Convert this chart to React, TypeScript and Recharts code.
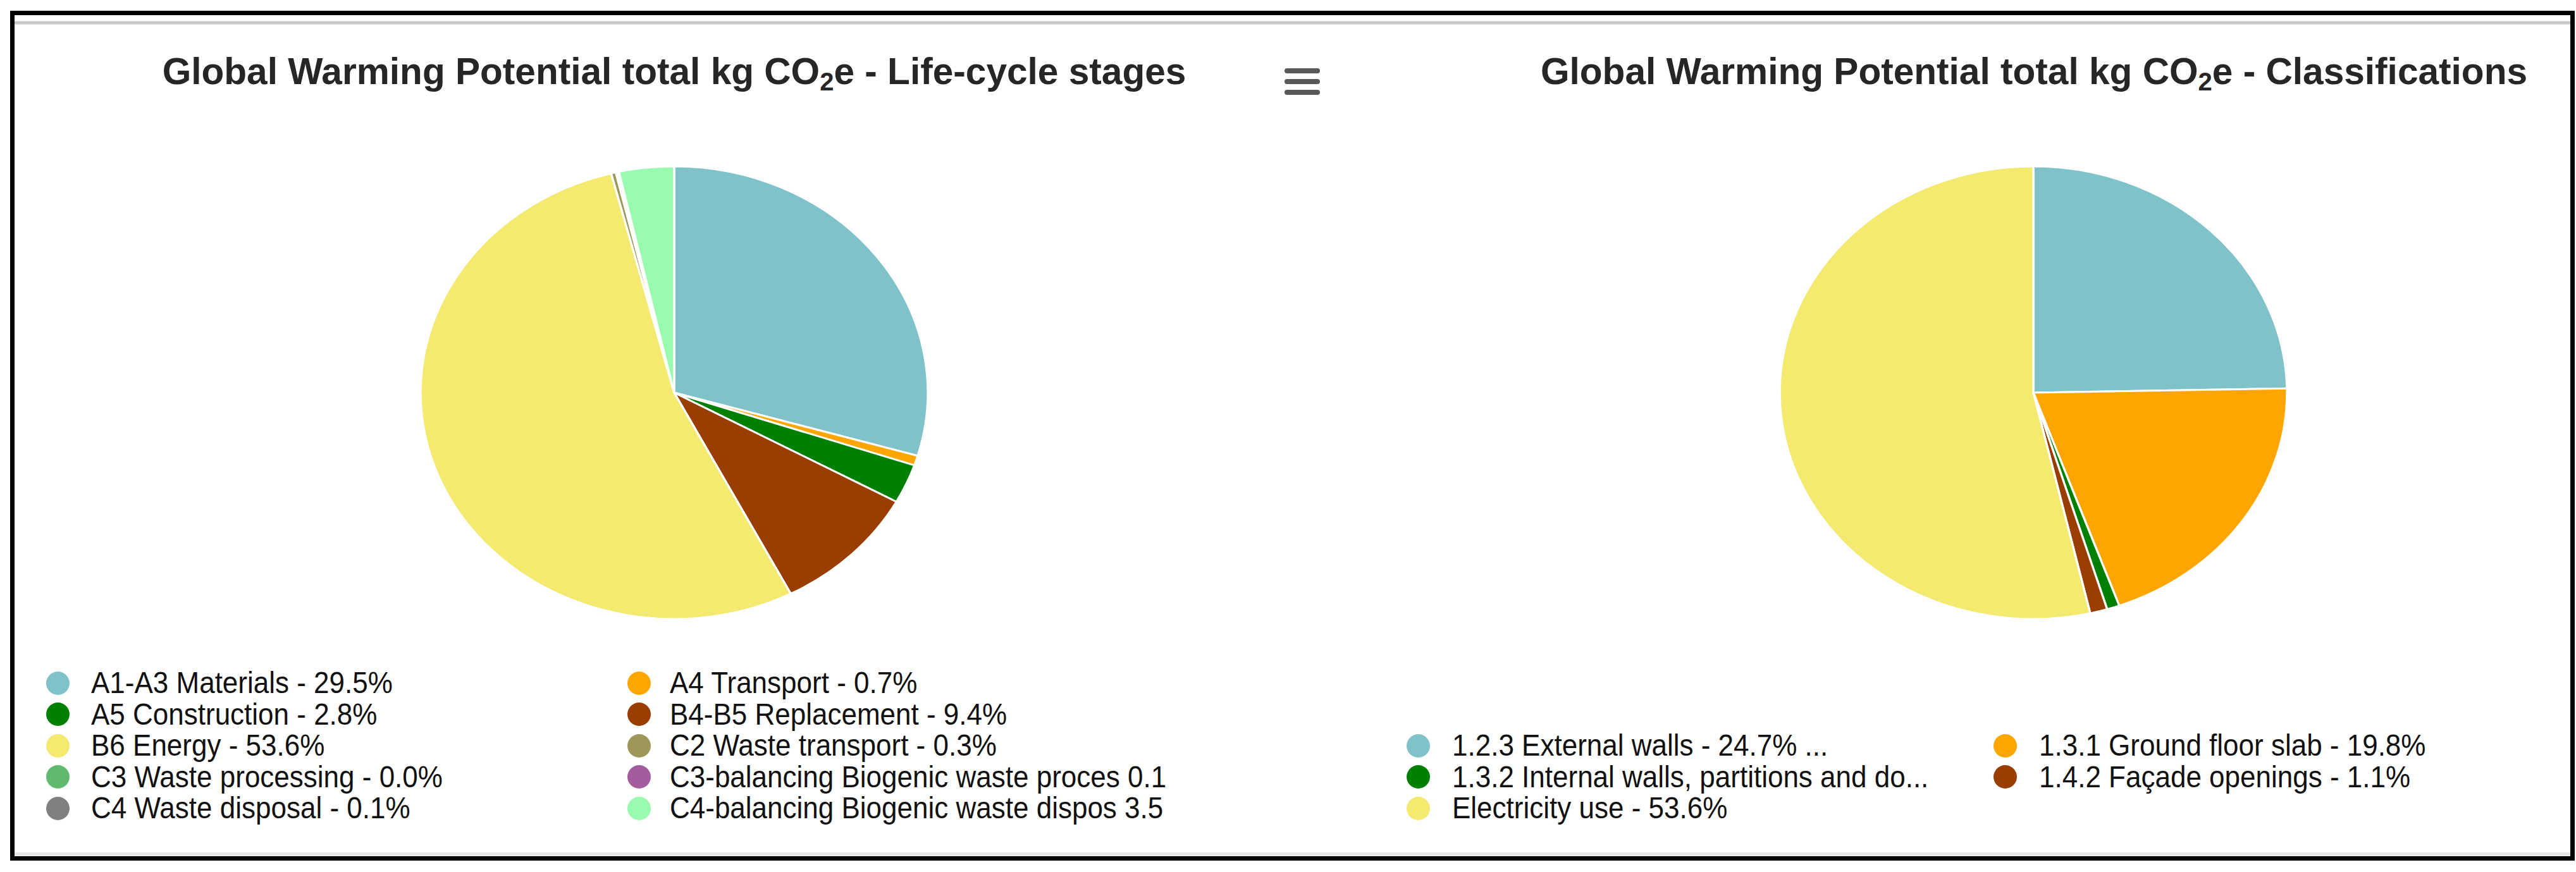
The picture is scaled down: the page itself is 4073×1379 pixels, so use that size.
import { Cell, Legend, Pie, PieChart, Sector } from "recharts";

const lifeNames = [
  "A1-A3 Materials",
  "A4 Transport",
  "A5 Construction",
  "B4-B5 Replacement",
  "B6 Energy",
  "C2 Waste transport",
  "C3 Waste processing",
  "C3-balancing Biogenic waste processing",
  "C4 Waste disposal",
  "C4-balancing Biogenic waste disposal",
];
const lifeValues = [29.5, 0.7, 2.8, 9.4, 53.6, 0.3, 0.0, 0.1, 0.1, 3.5];
const lifeLabels = [
  "A1-A3 Materials - 29.5%",
  "A4 Transport - 0.7%",
  "A5 Construction - 2.8%",
  "B4-B5 Replacement - 9.4%",
  "B6 Energy - 53.6%",
  "C2 Waste transport - 0.3%",
  "C3 Waste processing - 0.0%",
  "C3-balancing Biogenic waste proces 0.1",
  "C4 Waste disposal - 0.1%",
  "C4-balancing Biogenic waste dispos 3.5",
];
const lifeColors = [
  "#7fc2ca", "#ffa500", "#008000", "#993d00", "#f4ea70",
  "#9e975a", "#5fba6d", "#a35c9e", "#808080", "#98fbb0",
];

const classNames = [
  "1.2.3 External walls",
  "1.3.1 Ground floor slab",
  "1.3.2 Internal walls, partitions and doors",
  "1.4.2 Façade openings",
  "Electricity use",
];
const classValues = [24.7, 19.8, 0.8, 1.1, 53.6];
const classLabels = [
  "1.2.3 External walls - 24.7% ...",
  "1.3.1 Ground floor slab - 19.8%",
  "1.3.2 Internal walls, partitions and do...",
  "1.4.2 Façade openings - 1.1%",
  "Electricity use - 53.6%",
];
const classColors = ["#7fc2ca", "#ffa500", "#008000", "#993d00", "#f4ea70"];

const lifeData = lifeNames.map((name, i) => ({ name, value: lifeValues[i], fill: lifeColors[i] }));
const classData = classNames.map((name, i) => ({ name, value: classValues[i], fill: classColors[i] }));

// the screenshot is stretched sideways, so the pies come out as ellipses
const SX = 1.12;
const R = 358;
const CY = 621;
const FONT = "'Liberation Sans', Arial, sans-serif";

const EllipseSector = (props: any) => {
  const { cx, cy } = props;
  return (
    <g transform={`translate(${cx} ${cy}) scale(${SX} 1) translate(${-cx} ${-cy})`}>
      <Sector {...props} />
    </g>
  );
};

const makeLegend = (labels: string[], colX: number[], textX: number[], rowY: number) => (props: any) => (
  <div>
    {(props.payload || []).map((p: any, i: number) => {
      const col = i % 2;
      const row = Math.floor(i / 2);
      return (
        <div
          key={labels[i]}
          style={{
            position: "absolute",
            left: colX[col] - 18,
            top: rowY + row * 49.5 - 25,
            height: 50,
            display: "flex",
            alignItems: "center",
            whiteSpace: "nowrap",
          }}
        >
          <span style={{ width: 37, height: 37, borderRadius: "50%", background: p.color, display: "inline-block" }} />
          <span
            style={{
              marginLeft: textX[col] - colX[col] - 18,
              fontSize: 44,
              color: "#111",
              fontFamily: FONT,
              display: "inline-block",
              transform: "scaleY(1.08)",
            }}
          >
            {labels[i]}
          </span>
        </div>
      );
    })}
  </div>
);

const Title = ({ cx, text }: { cx: number; text: string }) => (
  <div
    style={{
      position: "absolute",
      left: cx - 1000,
      width: 2000,
      top: 84,
      textAlign: "center",
      fontFamily: FONT,
      fontWeight: "bold",
      fontSize: 58.6,
      lineHeight: "58px",
      color: "#262626",
      whiteSpace: "nowrap",
    }}
  >
    Global Warming Potential total kg CO<sub style={{ fontSize: 40, verticalAlign: "-10px", lineHeight: 0 }}>2</sub>e - {text}
  </div>
);

const PieBlock = ({ data, colors, labels, left, cx, colX, textX, rowY }: any) => (
  <div style={{ position: "absolute", left, top: 0 }}>
    <PieChart width={2036} height={1379} margin={{ top: 0, right: 0, bottom: 0, left: 0 }}>
      <Pie
        data={data}
        dataKey="value"
        nameKey="name"
        cx={cx}
        cy={CY}
        outerRadius={R}
        startAngle={90}
        endAngle={-270}
        stroke="#ffffff"
        strokeWidth={3}
        shape={EllipseSector}
        isAnimationActive={false}
      >
        {data.map((d: any, i: number) => (
          <Cell key={d.name} fill={colors[i]} />
        ))}
      </Pie>
      <Legend
        verticalAlign="top"
        wrapperStyle={{ left: 0, top: 0, width: 0, height: 0 }}
        content={makeLegend(labels, colX.map((x: number) => x - left), textX.map((x: number) => x - left), rowY)}
      />
    </PieChart>
  </div>
);

export default function App() {
  return (
    <div style={{ position: "absolute", left: 0, top: 0, width: 4073, height: 1379, background: "#fff", overflow: "hidden" }}>
      <div
        style={{
          position: "absolute",
          left: 16,
          top: 17,
          width: 4055,
          height: 1344,
          border: "7px solid #000",
          boxSizing: "border-box",
        }}
      />
      <div style={{ position: "absolute", left: 23, top: 33, width: 4041, height: 6, background: "linear-gradient(#e6e6e6, #bdbdbd, #e6e6e6)" }} />
      <div style={{ position: "absolute", left: 23, top: 1348, width: 4041, height: 5, background: "#e4e4e4" }} />

      <PieBlock data={lifeData} colors={lifeColors} labels={lifeLabels} left={0} cx={1066} colX={[91, 1010]} textX={[143, 1058]} rowY={1080} />
      <PieBlock data={classData} colors={classColors} labels={classLabels} left={2036} cx={3215 - 2036} colX={[2242, 3170]} textX={[2295, 3223]} rowY={1179} />

      <Title cx={1066} text="Life-cycle stages" />
      <Title cx={3216} text="Classifications" />

      {[108, 125, 142].map((y) => (
        <div key={y} style={{ position: "absolute", left: 2031, top: y, width: 56, height: 8, borderRadius: 4, background: "#585858" }} />
      ))}
    </div>
  );
}
